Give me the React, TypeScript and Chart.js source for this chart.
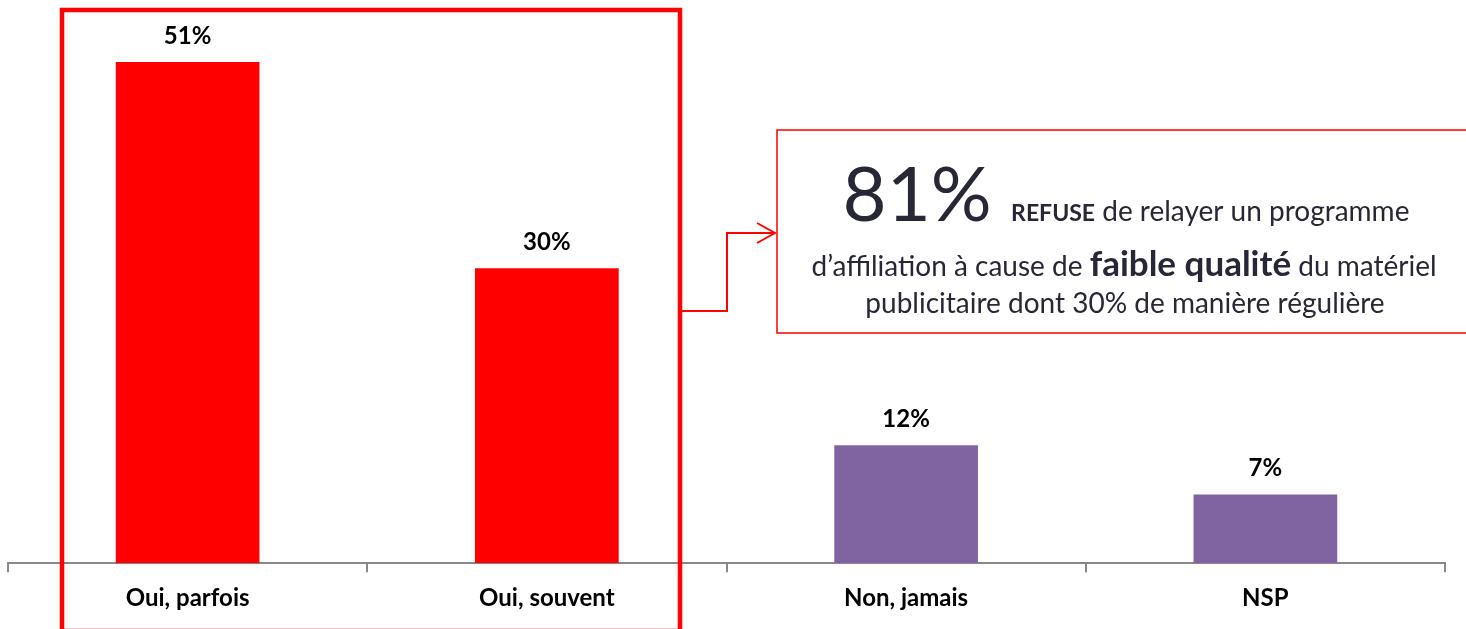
import React, { useEffect, useRef } from "react";
import { Chart, registerables } from "chart.js";

Chart.register(...registerables);

const categories = ["Oui, parfois", "Oui, souvent", "Non, jamais", "NSP"];
const values = [51, 30, 12, 7];
const barColors = ["#FF0000", "#FF0000", "#8064A2", "#8064A2"];
const valueLabels = ["51%", "30%", "12%", "7%"];

const FONT = "Lato, 'Open Sans', sans-serif";
const TEXT_DARK = "#272735";

type Seg = { text: string; font: string };

function drawLine(ctx: CanvasRenderingContext2D, segs: Seg[], cx: number, baseline: number) {
  let total = 0;
  const widths = segs.map((s) => {
    ctx.font = s.font;
    const w = ctx.measureText(s.text).width;
    total += w;
    return w;
  });
  let x = cx - total / 2;
  segs.forEach((s, i) => {
    ctx.font = s.font;
    ctx.fillText(s.text, x, baseline);
    x += widths[i];
  });
}

const overlayPlugin = {
  id: "overlay",
  afterDatasetsDraw(chart: any) {
    const ctx: CanvasRenderingContext2D = chart.ctx;
    const meta = chart.getDatasetMeta(0);
    ctx.save();
    // value labels
    ctx.fillStyle = "#000";
    ctx.textAlign = "center";
    ctx.textBaseline = "alphabetic";
    ctx.font = `bold 24px ${FONT}`;
    meta.data.forEach((bar: any, i: number) => {
      ctx.fillText(valueLabels[i], bar.x, bar.y - 18);
    });

    // big red frame around first two bars
    ctx.strokeStyle = "#FF0000";
    ctx.lineWidth = 4.5;
    ctx.strokeRect(62, 10, 618, 621);

    // connector arrow
    ctx.lineWidth = 2;
    ctx.beginPath();
    ctx.moveTo(682, 311);
    ctx.lineTo(727, 311);
    ctx.lineTo(727, 233);
    ctx.lineTo(774, 233);
    ctx.stroke();
    ctx.beginPath();
    ctx.moveTo(757, 223);
    ctx.lineTo(775, 233);
    ctx.lineTo(757, 243);
    ctx.stroke();

    // annotation box
    ctx.lineWidth = 1.5;
    ctx.strokeRect(777, 130, 700, 203);

    // annotation text
    ctx.fillStyle = TEXT_DARK;
    ctx.textAlign = "left";
    ctx.textBaseline = "alphabetic";
    drawLine(
      ctx,
      [
        { text: "81% ", font: `400 76px ${FONT}` },
        { text: "REFUSE", font: `bold 23px ${FONT}` },
        { text: " de relayer un programme", font: `28px ${FONT}` },
      ],
      1126,
      221
    );
    drawLine(
      ctx,
      [
        { text: "d\u2019affiliation à cause de ", font: `28px ${FONT}` },
        { text: "faible qualité", font: `bold 35px ${FONT}` },
        { text: " du matériel", font: `28px ${FONT}` },
      ],
      1124,
      276
    );
    drawLine(ctx, [{ text: "publicitaire dont 30% de manière régulière", font: `28px ${FONT}` }], 1125, 313);
    ctx.restore();
  },
};

export default function App() {
  const ref = useRef<HTMLCanvasElement | null>(null);
  useEffect(() => {
    if (!ref.current) return;
    const chart = new Chart(ref.current, {
      type: "bar",
      data: {
        labels: categories,
        datasets: [
          {
            data: values,
            backgroundColor: barColors,
            borderWidth: 0,
            categoryPercentage: 1,
            barPercentage: 0.4,
          },
        ],
      },
      options: {
        animation: false,
        responsive: true,
        maintainAspectRatio: false,
        layout: { padding: { left: 8, right: 21, top: 3, bottom: 4 } },
        plugins: { legend: { display: false }, tooltip: { enabled: false } },
        scales: {
          x: {
            offset: true,
            grid: {
              display: true,
              drawOnChartArea: false,
              drawTicks: true,
              tickLength: 9,
              color: "#888888",
              lineWidth: 2,
              offset: true,
            },
            border: { display: true, color: "#888888", width: 2 },
            ticks: {
              color: "#000",
              font: { family: FONT, weight: "bold", size: 24 },
              padding: 12,
            },
          },
          y: { display: false, min: 0, max: 57 },
        },
      },
      plugins: [overlayPlugin],
    });
    return () => chart.destroy();
  }, []);
  return (
    <div style={{ position: "fixed", left: 0, top: 0, width: 1466, height: 629, background: "#fff" }}>
      <canvas ref={ref} />
    </div>
  );
}
